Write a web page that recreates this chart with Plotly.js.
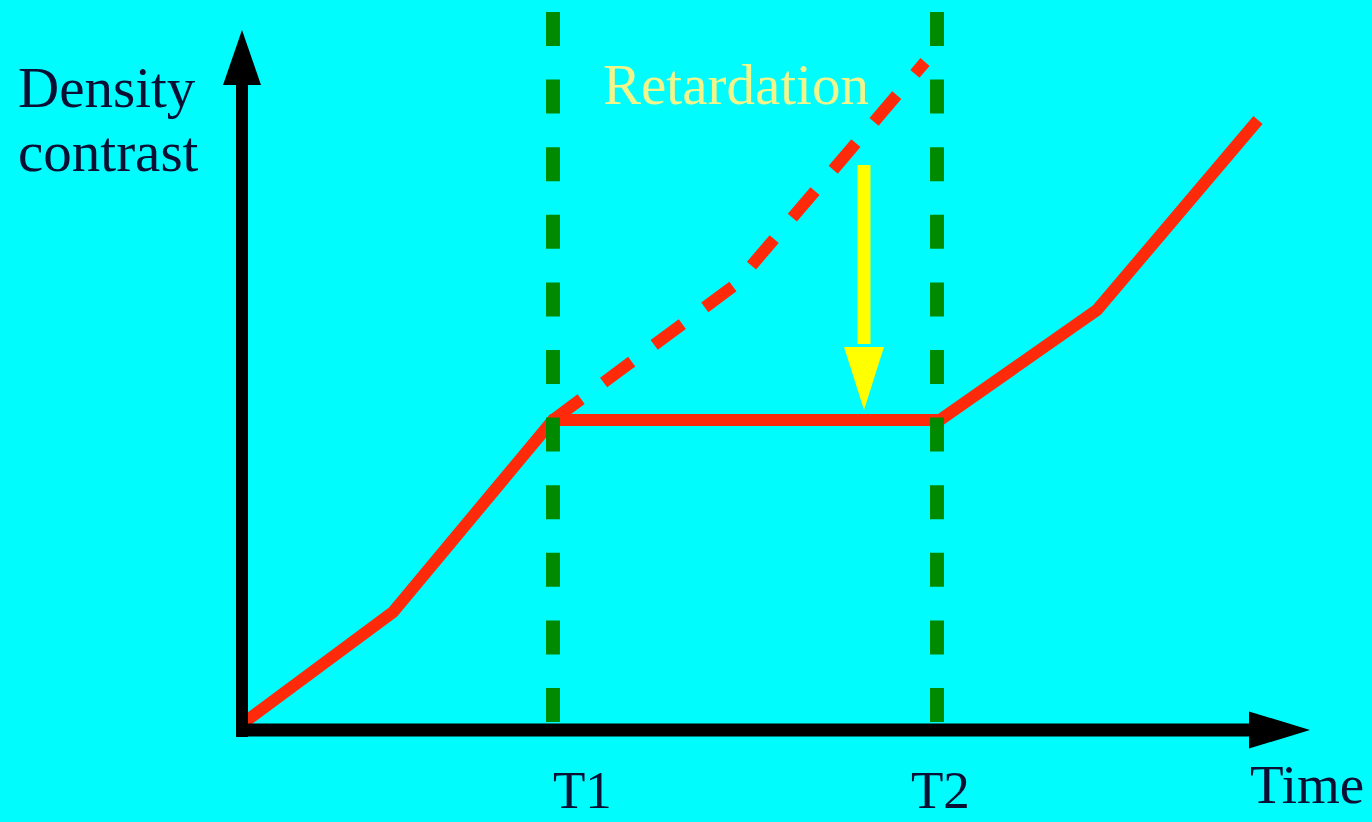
<!DOCTYPE html>
<html><head><meta charset="utf-8">
<script src="https://cdn.plot.ly/plotly-3.0.1.min.js"></script>
<style>html,body{margin:0;padding:0;background:#00FCFC;}#chart{width:1372px;height:822px;}</style>
</head><body><div id="chart"></div>
<script>
// Data (arbitrary units: time on x, density contrast on y)
const growthTime = [0, 15.1, 31.1, 69.8, 85.5, 101.6];
const growthDensity = [0.6, 11.8, 31.0, 31.0, 42.0, 61.0];
const unretardedTime = [31.1, 49.3, 68.3];
const unretardedDensity = [31.0, 44.5, 66.8];
const epochTimes = [31.1, 69.5];
const epochLabels = ['T1', 'T2'];
const epochSpan = [0.4, 71.8];
const retardTime = 62.2;
const retardFrom = 56.5;
const retardTo = 32.0;

// Styling / layout constants
const BG = '#00FCFC';
const RED = '#FF2A0A';
const GREEN = '#008A00';
const YELLOW = '#FFFF00';
const INK = '#0B0F33';
const SERIF = 'Liberation Serif, Times New Roman, serif';
const yAxisTop = 70.0, yAxisHeadBase = 64.5, yHeadHalf = 1.9;
const xAxisTip = 106.8, xAxisHeadBase = 100.7, xHeadHalf = 1.85;
const yellowHeadHalf = 2.0, yellowHeadLen = 6.3;

const traces = [
  {x: growthTime, y: growthDensity, mode: 'lines', line: {color: RED, width: 12}, hoverinfo: 'skip'},
  {x: unretardedTime, y: unretardedDensity, mode: 'lines', line: {color: RED, width: 12, dash: '35px,28px'}, hoverinfo: 'skip'}
];
epochTimes.forEach(t => {
  traces.push({x: [t, t], y: [epochSpan[1], epochSpan[0]], mode: 'lines',
    line: {color: GREEN, width: 14, dash: '34px,33.6px'}, hoverinfo: 'skip'});
});

const shapes = [
  // y axis shaft + head
  {type: 'line', xref: 'x', yref: 'y', x0: 0, x1: 0, y0: -0.7, y1: yAxisHeadBase + 0.5, line: {color: 'black', width: 12}, layer: 'above'},
  {type: 'path', xref: 'x', yref: 'y', layer: 'above', fillcolor: 'black', line: {width: 0},
   path: `M ${-yHeadHalf},${yAxisHeadBase} L ${yHeadHalf},${yAxisHeadBase} L 0,${yAxisTop} Z`},
  // x axis shaft + head
  {type: 'line', xref: 'x', yref: 'y', x0: -0.6, x1: xAxisHeadBase + 0.5, y0: 0, y1: 0, line: {color: 'black', width: 13}, layer: 'above'},
  {type: 'path', xref: 'x', yref: 'y', layer: 'above', fillcolor: 'black', line: {width: 0},
   path: `M ${xAxisHeadBase},${-xHeadHalf} L ${xAxisHeadBase},${xHeadHalf} L ${xAxisTip},0 Z`},
  // retardation arrow
  {type: 'line', xref: 'x', yref: 'y', x0: retardTime, x1: retardTime, y0: retardFrom, y1: retardTo + yellowHeadLen + 0.3, line: {color: YELLOW, width: 13}, layer: 'above'},
  {type: 'path', xref: 'x', yref: 'y', layer: 'above', fillcolor: YELLOW, line: {width: 0},
   path: `M ${retardTime - yellowHeadHalf},${retardTo + yellowHeadLen} L ${retardTime + yellowHeadHalf},${retardTo + yellowHeadLen} L ${retardTime},${retardTo} Z`}
];

const annotations = [
  {x: -22.6, y: 64.3, text: 'Density', xanchor: 'left', yanchor: 'middle', font: {family: SERIF, size: 57, color: INK}},
  {x: -22.6, y: 57.9, text: 'contrast', xanchor: 'left', yanchor: 'middle', font: {family: SERIF, size: 57, color: INK}},
  {x: 35.9, y: 64.6, text: 'Retardation', xanchor: 'left', yanchor: 'middle', font: {family: SERIF, size: 57, color: '#F2F58A'}},
  {x: epochTimes[0] + 2.9, y: -6.0, text: epochLabels[0], xanchor: 'center', yanchor: 'middle', font: {family: SERIF, size: 53, color: INK}},
  {x: epochTimes[1] + 0.3, y: -6.0, text: epochLabels[1], xanchor: 'center', yanchor: 'middle', font: {family: SERIF, size: 53, color: INK}},
  {x: 106.5, y: -5.44, text: 'Time', xanchor: 'center', yanchor: 'middle', font: {family: SERIF, size: 55, color: INK}}
].map(a => Object.assign({xref: 'x', yref: 'y', showarrow: false}, a));

const layout = {
  width: 1372, height: 822,
  margin: {l: 0, r: 0, t: 0, b: 0},
  paper_bgcolor: BG, plot_bgcolor: BG,
  showlegend: false, hovermode: false,
  xaxis: {range: [-24.2, 113.0], visible: false, fixedrange: true},
  yaxis: {range: [-9.2, 73.0], visible: false, fixedrange: true},
  shapes: shapes,
  annotations: annotations
};

Plotly.newPlot('chart', traces, layout, {displayModeBar: false, staticPlot: true});
</script>
</body></html>
